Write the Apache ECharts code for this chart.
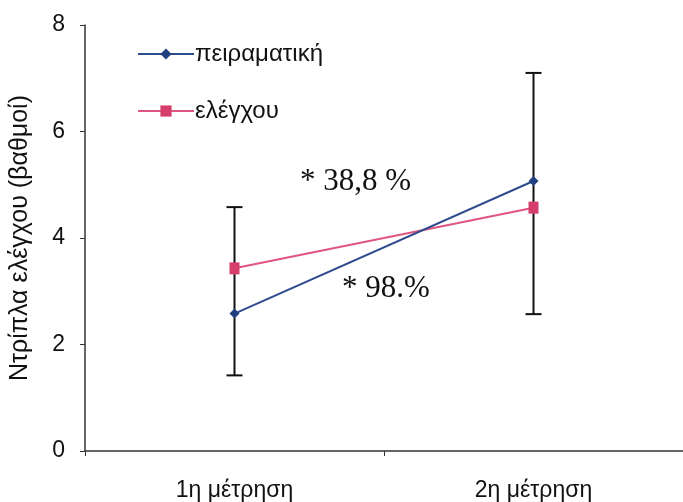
<!DOCTYPE html>
<html><head><meta charset="utf-8">
<script src="https://cdn.jsdelivr.net/npm/echarts@6/dist/echarts.min.js"></script>
<style>html,body{margin:0;padding:0;background:#fff}#c{width:683px;height:502px}</style>
</head><body><div id="c"></div>
<script>
var categories = ['1η μέτρηση', '2η μέτρηση'];
var experimental = [2.58, 5.07];
var control = [3.43, 4.57];
var errLow = [1.42, 2.57];
var errHigh = [4.58, 7.10];
var yTicks = [0, 2, 4, 6, 8];
var seriesNames = ['πειραματική', 'ελέγχου'];
var annotations = ['* 38,8 %', '* 98.%'];

var chart = echarts.init(document.getElementById('c'));
var errData = categories.map(function (c, i) { return [i, errLow[i], errHigh[i]]; });
chart.setOption({
  animation: false,
  backgroundColor: '#fff',
  grid: { left: 84, top: 25, bottom: 50, width: 602 },
  legend: {
    orient: 'vertical', left: 132, top: 37, itemGap: 33, itemWidth: 56, itemHeight: 14,
    textStyle: { fontFamily: 'Liberation Sans', fontSize: 24, color: '#111', padding: [0, 0, 0, -4] },
    data: seriesNames
  },
  xAxis: {
    type: 'category', data: categories, boundaryGap: true,
    axisLine: { lineStyle: { color: '#333', width: 1.5 } },
    axisTick: { show: true, length: 5, lineStyle: { color: '#333' } },
    axisLabel: { fontFamily: 'Liberation Sans', fontSize: 23, color: '#111', margin: 28 }
  },
  yAxis: {
    type: 'value', min: yTicks[0], max: yTicks[yTicks.length - 1], interval: 2,
    name: 'Ντρίπλα ελέγχου (βαθμοί)', nameLocation: 'middle', nameGap: 52, nameRotate: 90,
    nameTextStyle: { fontFamily: 'Liberation Sans', fontSize: 25, color: '#111' },
    axisLine: { show: true, lineStyle: { color: '#333', width: 1.5 } },
    axisTick: { show: true, length: 5, lineStyle: { color: '#333' } },
    splitLine: { show: false },
    axisLabel: { fontFamily: 'Liberation Sans', fontSize: 23, color: '#111', margin: 20 }
  },
  series: [
    {
      name: 'errors', type: 'custom', data: errData, z: 1,
      renderItem: function (params, api) {
        var x = api.value(0);
        var lo = api.coord([x, api.value(1)]);
        var hi = api.coord([x, api.value(2)]);
        var cw = 8;
        var st = { stroke: '#111', lineWidth: 2 };
        return { type: 'group', children: [
          { type: 'line', shape: { x1: lo[0], y1: lo[1], x2: hi[0], y2: hi[1] }, style: st },
          { type: 'line', shape: { x1: lo[0] - cw, y1: lo[1], x2: lo[0] + cw, y2: lo[1] }, style: st },
          { type: 'line', shape: { x1: hi[0] - cw, y1: hi[1], x2: hi[0] + cw, y2: hi[1] }, style: st }
        ] };
      }
    },
    {
      name: seriesNames[0], type: 'line', data: experimental, z: 3,
      symbol: 'diamond', symbolSize: 10,
      lineStyle: { color: '#2f4c8e', width: 2 }, itemStyle: { color: '#22407f' }
    },
    {
      name: seriesNames[1], type: 'line', data: control, z: 2,
      symbol: 'rect', symbolSize: [10, 12],
      lineStyle: { color: '#e05680', width: 2 }, itemStyle: { color: '#d63e6b' }
    }
  ],
  graphic: [
    { type: 'text', left: 300, top: 166, style: { text: annotations[0], font: '31px "Liberation Serif"', fill: '#111' } },
    { type: 'text', left: 342, top: 273, style: { text: annotations[1], font: '31px "Liberation Serif"', fill: '#111' } }
  ]
});
</script></body></html>
